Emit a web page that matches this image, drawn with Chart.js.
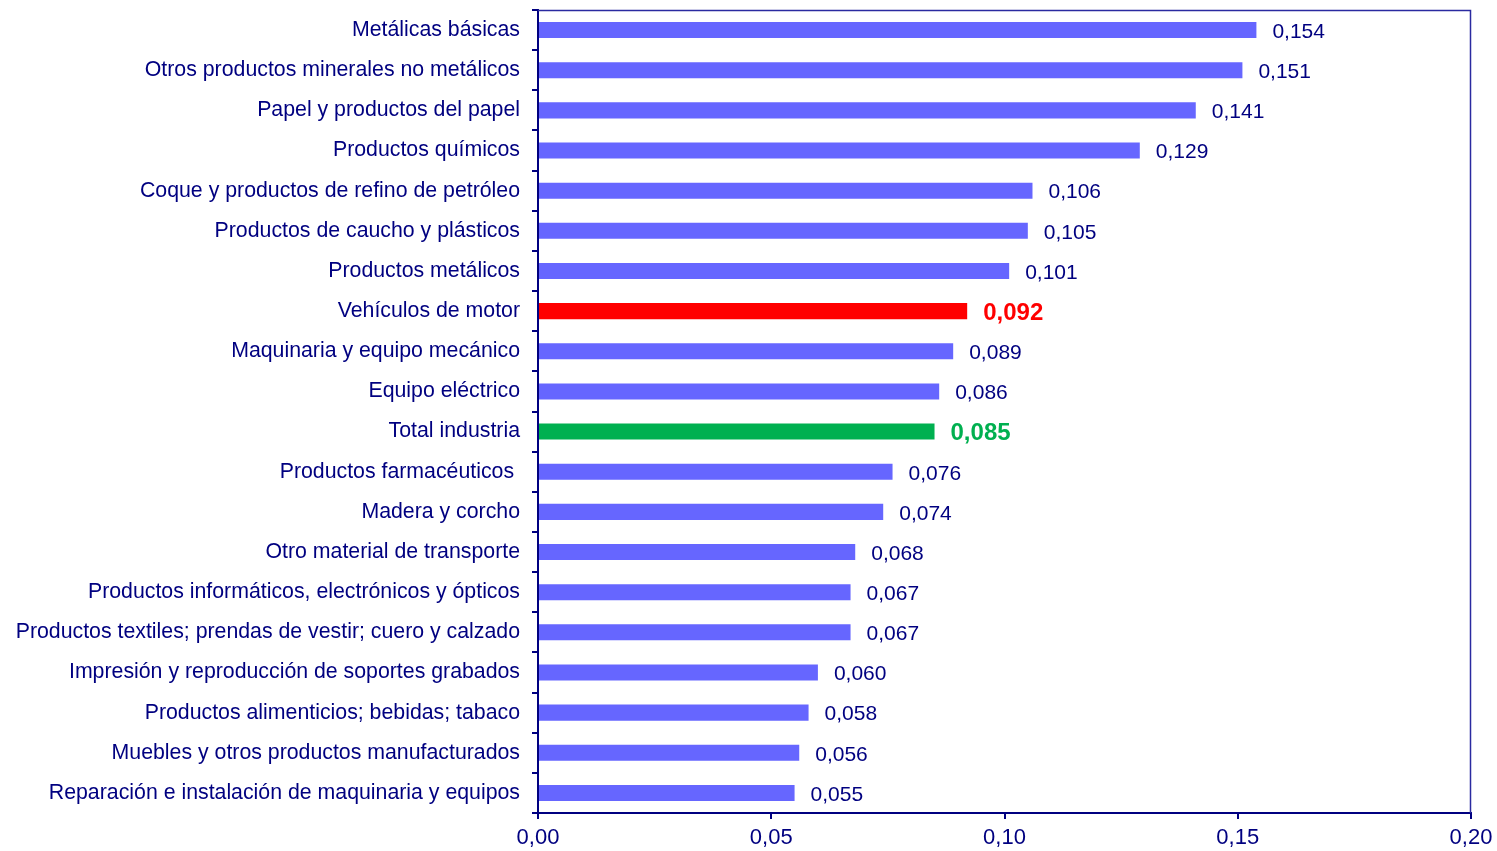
<!DOCTYPE html>
<html>
<head>
<meta charset="utf-8">
<script src="https://cdn.jsdelivr.net/npm/chart.js@4"></script>
<style>
  html, body { margin: 0; padding: 0; background: #ffffff; }
  #wrap { width: 1497px; height: 851px; position: relative; }
</style>
</head>
<body>
<div id="wrap"><canvas id="c" width="1497" height="851"></canvas></div>
<script>
// Sectors of manufacturing industry
const categories = [
  "Metálicas básicas",
  "Otros productos minerales no metálicos",
  "Papel y productos del papel",
  "Productos químicos",
  "Coque y productos de refino de petróleo",
  "Productos de caucho y plásticos",
  "Productos metálicos",
  "Vehículos de motor",
  "Maquinaria y equipo mecánico",
  "Equipo eléctrico",
  "Total industria",
  "Productos farmacéuticos ",
  "Madera y corcho",
  "Otro material de transporte",
  "Productos informáticos, electrónicos y ópticos",
  "Productos textiles; prendas de vestir; cuero y calzado",
  "Impresión y reproducción de soportes grabados",
  "Productos alimenticios; bebidas; tabaco",
  "Muebles y otros productos manufacturados",
  "Reparación e instalación de maquinaria y equipos"
];

const values = [0.154, 0.151, 0.141, 0.129, 0.106, 0.105, 0.101, 0.092, 0.089, 0.086,
                0.085, 0.076, 0.074, 0.068, 0.067, 0.067, 0.060, 0.058, 0.056, 0.055];

const xTicks = [0, 0.05, 0.10, 0.15, 0.20];

const NAVY = "#000080";
const BAR = "#6666FF";
const HIGHLIGHT = { "Vehículos de motor": "#FF0000", "Total industria": "#00B050" };
const FONT = "'Liberation Sans', Arial, sans-serif";

const barColors = categories.map(c => HIGHLIGHT[c] || BAR);
const fmt = (v, d) => v.toFixed(d).replace(".", ",");

// Value labels after each bar; highlighted sectors in bold and in their own colour
const valueLabels = {
  id: "valueLabels",
  afterDatasetsDraw(chart) {
    const ctx = chart.ctx;
    const meta = chart.getDatasetMeta(0);
    ctx.save();
    ctx.textAlign = "left";
    ctx.textBaseline = "middle";
    meta.data.forEach((bar, i) => {
      const hl = HIGHLIGHT[categories[i]];
      ctx.font = (hl ? "bold 24px " : "21px ") + FONT;
      ctx.fillStyle = hl || NAVY;
      ctx.fillText(fmt(values[i], 3), bar.x + 16, bar.y + 2);
    });
    ctx.restore();
  }
};

// Top and right edges of the plot frame
const frame = {
  id: "frame",
  afterDraw(chart) {
    const a = chart.chartArea;
    const ctx = chart.ctx;
    ctx.save();
    ctx.strokeStyle = "#2a2aa0";
    ctx.lineWidth = 1.5;
    ctx.beginPath();
    ctx.moveTo(a.left, a.top + 0.5);
    ctx.lineTo(a.right - 0.5, a.top + 0.5);
    ctx.lineTo(a.right - 0.5, a.bottom);
    ctx.stroke();
    ctx.restore();
  }
};

new Chart(document.getElementById("c"), {
  type: "bar",
  data: {
    labels: categories,
    datasets: [{
      data: values,
      backgroundColor: barColors,
      borderWidth: 0,
      barPercentage: 0.8,
      categoryPercentage: 0.5
    }]
  },
  options: {
    indexAxis: "y",
    responsive: false,
    animation: false,
    layout: { padding: { top: 10, right: 26, left: 0, bottom: 0 } },
    plugins: { legend: { display: false }, tooltip: { enabled: false } },
    scales: {
      x: {
        min: 0,
        max: 0.2,
        afterBuildTicks(scale) { scale.ticks = xTicks.map(v => ({ value: v })); },
        afterFit(scale) { scale.height = 38; scale.paddingLeft = 0; scale.paddingRight = 0; },
        ticks: {
          color: NAVY,
          font: { family: FONT, size: 22 },
          padding: 6,
          maxRotation: 0,
          callback: v => fmt(v, 2)
        },
        grid: { drawOnChartArea: false, tickLength: 6, color: NAVY, lineWidth: 2 },
        border: { display: true, color: NAVY, width: 2 }
      },
      y: {
        afterFit(scale) { scale.width = 538; scale.paddingTop = 0; scale.paddingBottom = 0; },
        ticks: {
          color: NAVY,
          font: { family: FONT, size: 21.3 },
          padding: 12,
          autoSkip: false
        },
        grid: { offset: true, drawOnChartArea: false, tickLength: 6, color: NAVY, lineWidth: 2 },
        border: { display: true, color: NAVY, width: 2 }
      }
    }
  },
  plugins: [valueLabels, frame]
});
</script>
</body>
</html>
